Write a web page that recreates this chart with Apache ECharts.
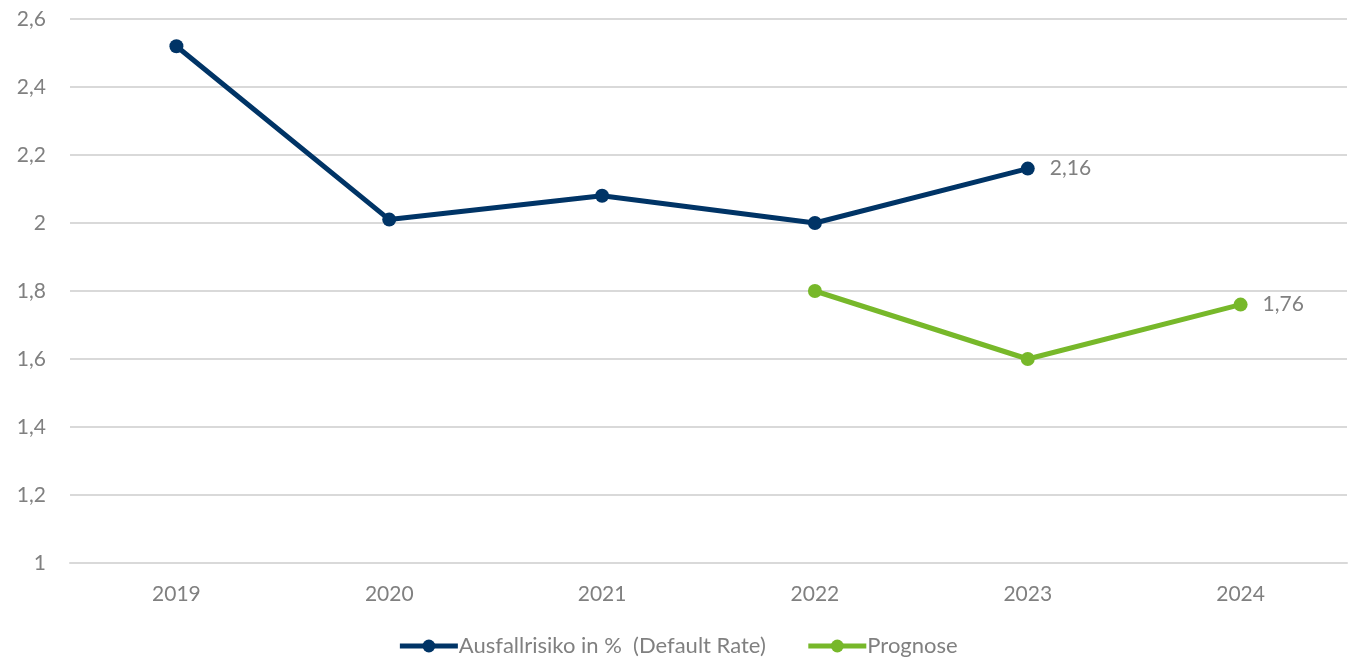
<!DOCTYPE html>
<html>
<head>
<meta charset="utf-8">
<script src="https://cdn.jsdelivr.net/npm/echarts@6/dist/echarts.min.js"></script>
<style>
  html, body { margin: 0; padding: 0; background: #fff; }
  #chart { width: 1355px; height: 664px; }
</style>
</head>
<body>
<div id="chart"></div>
<script>
// data
var years = ['2019', '2020', '2021', '2022', '2023', '2024'];
var defaultRate = [2.52, 2.01, 2.08, 2.0, 2.16, null];
var prognose = [null, null, null, 1.8, 1.6, 1.76];
var seriesNames = ['Ausfallrisiko in %  (Default Rate)', 'Prognose'];

var fmt = function (v) { return String(v).replace('.', ','); };
var font = 'Lato, "Open Sans", sans-serif';
var grey = '#808080';

var chart = echarts.init(document.getElementById('chart'));

// label only on the last point of each line
function lastLabel(arr) {
  var last = -1;
  arr.forEach(function (v, i) { if (v != null) last = i; });
  return arr.map(function (v, i) {
    if (i !== last) return v;
    return {
      value: v,
      label: {
        show: true, position: 'right', distance: 15,
        formatter: function (p) { return fmt(p.value); },
        color: grey, fontSize: 21, fontFamily: font
      }
    };
  });
}

chart.setOption({
  animation: false,
  grid: { left: 70, right: 8, top: 19, bottom: 101 },
  legend: {
    bottom: 2,
    itemWidth: 58,
    itemHeight: 16,
    itemGap: 40,
    lineStyle: { width: 5 },
    textStyle: { color: grey, fontSize: 22, fontFamily: font, padding: [0, 0, 0, -4] },
    data: seriesNames
  },
  xAxis: {
    type: 'category',
    data: years,
    axisLine: { show: true, lineStyle: { color: '#d9d9d9', width: 2 } },
    axisTick: { show: false },
    axisLabel: { color: grey, fontSize: 21, fontFamily: font, margin: 21 }
  },
  yAxis: {
    type: 'value',
    min: 1, max: 2.6, interval: 0.2,
    axisLine: { show: false },
    axisTick: { show: false },
    splitLine: { lineStyle: { color: '#d9d9d9', width: 2 } },
    axisLabel: {
      color: grey, fontSize: 21, fontFamily: font, margin: 24,
      formatter: function (v) { return fmt(Math.round(v * 10) / 10); }
    }
  },
  series: [
    {
      name: seriesNames[0],
      type: 'line',
      data: lastLabel(defaultRate),
      symbol: 'circle',
      symbolSize: 14,
      lineStyle: { color: '#003466', width: 5 },
      itemStyle: { color: '#003466' }
    },
    {
      name: seriesNames[1],
      type: 'line',
      data: lastLabel(prognose),
      symbol: 'circle',
      symbolSize: 14,
      lineStyle: { color: '#77b82a', width: 5 },
      itemStyle: { color: '#77b82a' }
    }
  ]
});
</script>
</body>
</html>
